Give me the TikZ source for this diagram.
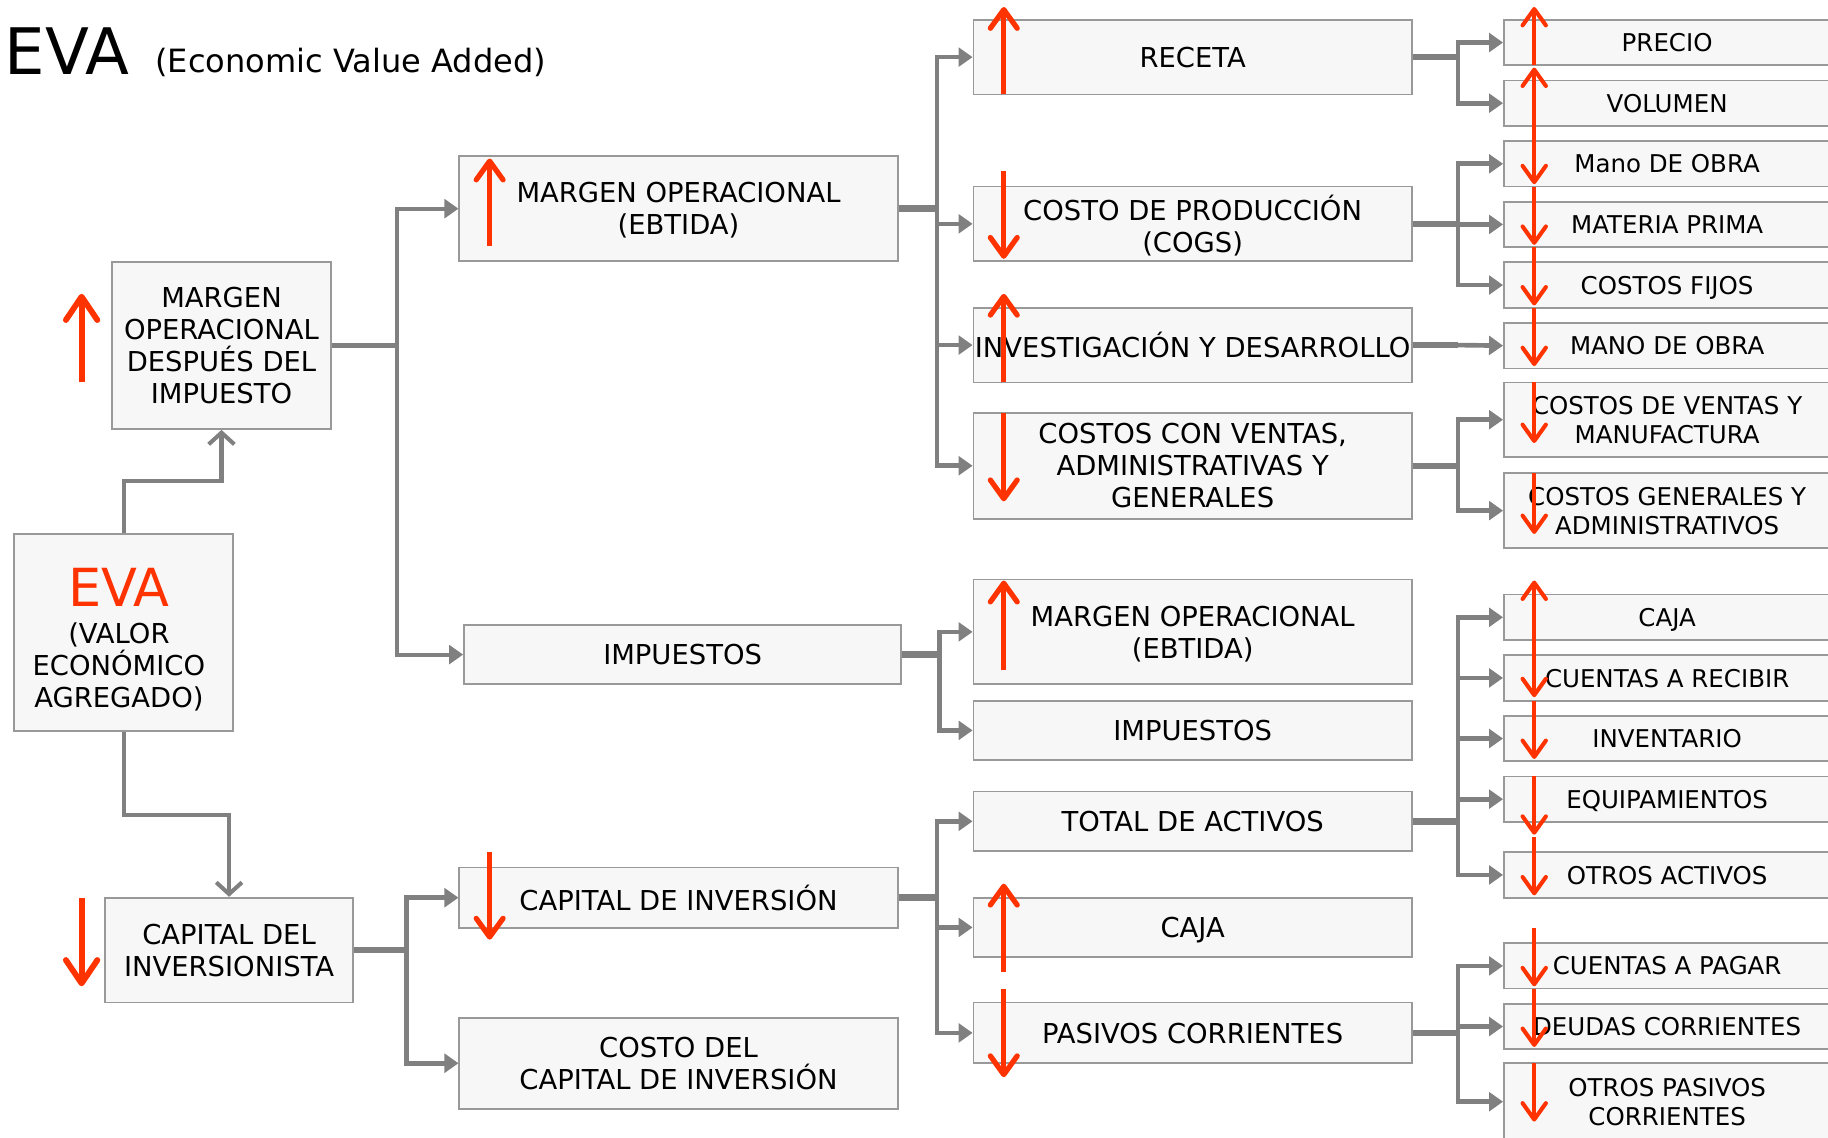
\documentclass[tikz,border=0pt]{standalone}
\usepackage{fontspec}
\setmainfont{DejaVu Sans}
\usetikzlibrary{arrows.meta}
\definecolor{evared}{HTML}{FF3300}
\definecolor{linkgray}{HTML}{808080}
\definecolor{boxfill}{HTML}{F7F7F7}
\definecolor{boxline}{HTML}{999999}
\begin{document}
\begin{tikzpicture}[x=1pt, y=-1pt,
  box/.style={draw=boxline, fill=boxfill, line width=1.5pt, inner sep=0pt,
    align=center, text=black, text depth=0pt, font=\fontsize{23.5}{27.5}\selectfont},
  mid/.style={box, minimum width=376pt},
  leaf/.style={box, minimum width=280pt, minimum height=39pt,
    font=\fontsize{21}{25}\selectfont},
  stem/.style={draw=linkgray, line width=5.5pt},
  branch/.style={draw=linkgray, line width=4pt, -{Triangle[length=12pt,width=16pt]}},
  feed/.style={draw=linkgray, line width=3.5pt, line join=miter,
    -{Straight Barb[length=10pt,width=22pt]}},
  bigred/.style={draw=evared, line width=5pt, -{Straight Barb[length=20pt,width=27pt,round]}},
  midred/.style={draw=evared, line width=4.5pt, -{Straight Barb[length=16pt,width=23pt,round]}},
  smallred/.style={draw=evared, line width=3.5pt, -{Straight Barb[length=14pt,width=20pt,round]}}]

\clip (0,0) rectangle (1568,976);
\fill[white] (0,0) rectangle (1568,976);

% title
\node[anchor=base west, inner sep=0pt, font=\fontsize{55}{60}\selectfont] (title) at (4,64) {EVA};
\node[anchor=base west, inner sep=0pt, font=\fontsize{27.5}{33}\selectfont] (subtitle) at (133,62) {(Economic Value Added)};

% first level
\node[box, minimum width=188pt, minimum height=143pt] (mdi) at (190,296.5) {MARGEN\\OPERACIONAL\\DESPUÉS DEL\\IMPUESTO};
\node[box, minimum width=188pt, minimum height=169pt] (eva) at (106,542.5) {};
\node[inner sep=0pt, anchor=base, text=evared, font=\fontsize{45}{50}\selectfont] (evaword) at (102,520) {EVA};
\node[inner sep=0pt, align=center, font=\fontsize{23.5}{27.5}\selectfont] (evadesc) at (102,572) {(VALOR\\ECONÓMICO\\AGREGADO)};
\node[box, minimum width=213pt, minimum height=90pt] (capd) at (196.5,815) {CAPITAL DEL\\INVERSIONISTA};

% second level
\node[mid, minimum height=90pt] (mop) at (582,179) {MARGEN OPERACIONAL\\(EBTIDA)};
\node[mid, minimum width=375pt, minimum height=51pt] (imp) at (585.5,561.5) {IMPUESTOS};
\node[mid, minimum height=52pt] (cdi) at (582,770) {CAPITAL DE INVERSIÓN};
\node[mid, minimum height=78pt] (ccdi) at (582,912) {COSTO DEL\\CAPITAL DE INVERSIÓN};

% third level
\node[mid, minimum height=64pt] (receta) at (1023,49) {RECETA};
\node[mid, minimum height=64pt] (cogs) at (1023,192) {COSTO DE PRODUCCIÓN\\(COGS)};
\node[mid, minimum height=64pt] (idd) at (1023,296) {INVESTIGACIÓN Y DESARROLLO};
\node[mid, minimum height=91pt] (csga) at (1023,399.5) {COSTOS CON VENTAS,\\ADMINISTRATIVAS Y\\GENERALES};
\node[mid, minimum height=90pt] (mop3) at (1023,542) {MARGEN OPERACIONAL\\(EBTIDA)};
\node[mid, minimum height=51pt] (imp3) at (1023,626.5) {IMPUESTOS};
\node[mid, minimum height=51pt] (tact) at (1023,704.5) {TOTAL DE ACTIVOS};
\node[mid, minimum height=51pt] (caja3) at (1023,795.5) {CAJA};
\node[mid, minimum height=52pt] (pasc) at (1023,886) {PASIVOS CORRIENTES};

% fourth level
\node[leaf] (precio) at (1430,36.5) {PRECIO};
\node[leaf] (volumen) at (1430,88.5) {VOLUMEN};
\node[leaf] (mano1) at (1430,140.5) {Mano DE OBRA};
\node[leaf] (materia) at (1430,192.5) {MATERIA PRIMA};
\node[leaf] (fijos) at (1430,244.5) {COSTOS FIJOS};
\node[leaf] (mano2) at (1430,296.5) {MANO DE OBRA};
\node[leaf, minimum height=64pt] (cvm) at (1430,360) {COSTOS DE VENTAS Y\\MANUFACTURA};
\node[leaf, minimum height=64pt] (cga) at (1430,438) {COSTOS GENERALES Y\\ADMINISTRATIVOS};
\node[leaf] (caja4) at (1430,529.5) {CAJA};
\node[leaf] (recibir) at (1430,581.5) {CUENTAS A RECIBIR};
\node[leaf] (invent) at (1430,633.5) {INVENTARIO};
\node[leaf] (equip) at (1430,685.5) {EQUIPAMIENTOS};
\node[leaf] (oact) at (1430,750.5) {OTROS ACTIVOS};
\node[leaf] (pagar) at (1430,828.5) {CUENTAS A PAGAR};
\node[leaf] (deudas) at (1430,880.5) {DEUDAS CORRIENTES};
\node[leaf, minimum height=66pt] (opc) at (1430,945) {OTROS PASIVOS\\CORRIENTES};

% EVA feeds its two drivers
\draw[feed] (eva.north) -- ++(0,-45) -| (mdi.south);
\draw[feed] (eva.south) -- ++(0,71) -| (capd.north);

% branching connectors
\coordinate (tA) at ([xshift=56pt]mdi.east);
\draw[draw=linkgray, line width=4pt] (mdi.east) -- (tA);
\draw[branch, line width=3.5pt] (tA) |- (mop.west);
\draw[branch, line width=3.5pt] (tA) |- (imp.west);

\coordinate (tB) at ([xshift=45pt]capd.east);
\draw[stem] (capd.east) -- (tB);
\draw[branch] (tB) |- (cdi.west);
\draw[branch] (tB) |- (ccdi.west);

\coordinate (tC) at ([xshift=33pt]mop.east);
\draw[stem] (mop.east) -- (tC);
\foreach \n in {receta,cogs,idd,csga} \draw[branch] (tC) |- (\n.west);

\coordinate (tD) at ([xshift=32pt]imp.east);
\draw[stem] (imp.east) -- (tD);
\foreach \n in {mop3,imp3} \draw[branch] (tD) |- (\n.west);

\coordinate (tE) at ([xshift=33pt]cdi.east);
\draw[stem] (cdi.east) -- (tE);
\foreach \n in {tact,caja3,pasc} \draw[branch] (tE) |- (\n.west);

\coordinate (tF) at ([xshift=39pt]receta.east);
\draw[stem] (receta.east) -- (tF);
\foreach \n in {precio,volumen} \draw[branch] (tF) |- (\n.west);

\coordinate (tG) at ([xshift=39pt]cogs.east);
\draw[stem] (cogs.east) -- (tG);
\foreach \n in {mano1,materia,fijos} \draw[branch] (tG) |- (\n.west);

\coordinate (tH) at ([xshift=39pt]idd.east);
\draw[stem] (idd.east) -- (tH);
\draw[branch] (tH) -- (mano2.west);

\coordinate (tI) at ([xshift=39pt]csga.east);
\draw[stem] (csga.east) -- (tI);
\foreach \n in {cvm,cga} \draw[branch] (tI) |- (\n.west);

\coordinate (tJ) at ([xshift=39pt]tact.east);
\draw[stem] (tact.east) -- (tJ);
\foreach \n in {caja4,recibir,invent,equip,oact} \draw[branch] (tJ) |- (\n.west);

\coordinate (tK) at ([xshift=39pt]pasc.east);
\draw[stem] (pasc.east) -- (tK);
\foreach \n in {pagar,deudas,opc} \draw[branch] (tK) |- (\n.west);

% trend arrows: up = rise, down = fall
\draw[bigred] (70,328) -- (70,252);
\draw[bigred] (70,770) -- (70,846);
\foreach \a/\b in {211/136, 731/806} \draw[midred] (420,\a) -- (420,\b);
\foreach \a/\b in {81/6, 147/222, 328/252, 354/430, 575/498, 834/758, 848/924}
  \draw[midred] (861,\a) -- (861,\b);
\foreach \a/\b in {56/6, 108/58, 108/158, 160/210, 212/262, 264/314, 328/380, 406/458,
  549/498, 549/598, 601/651, 666/716, 718/768, 796/846, 848/898, 912/962}
  \draw[smallred] (1316,\a) -- (1316,\b);

\end{tikzpicture}
\end{document}
